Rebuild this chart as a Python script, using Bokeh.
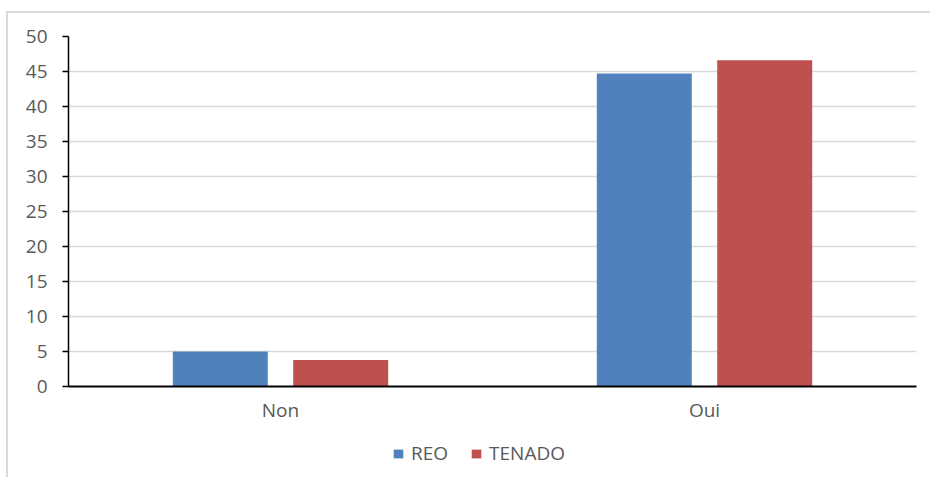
from bokeh.plotting import figure
from bokeh.layouts import column
from bokeh.models import FactorRange, Range1d, ColumnDataSource, Legend, LegendItem, SingleIntervalTicker
from bokeh.transform import dodge
from bokeh.embed import file_html
from bokeh.resources import INLINE

# Data
categories = ["Non", "Oui"]
series_names = ["REO", "TENADO"]
reo = [5.0, 44.7]
tenado = [3.8, 46.6]
colors = ["#4F81BD", "#C0504D"]

FONT = "Open Sans"
TEXT = "#595959"
GRID = "#D9D9D9"

source = ColumnDataSource(data=dict(cat=categories, REO=reo, TENADO=tenado))

bar_w = 0.224
offsets = [-0.142, 0.142]

# Main chart
chart = figure(
    x_range=FactorRange(*categories, range_padding=0),
    y_range=Range1d(0, 50),
    width=922, height=418,
    output_backend="svg", toolbar_location=None,
    min_border_left=60, min_border_right=14,
    min_border_top=23, min_border_bottom=45,
)
chart.outline_line_color = None

for name, col, off in zip(series_names, colors, offsets):
    chart.vbar(x=dodge("cat", off, range=chart.x_range), top=name, width=bar_w,
               source=source, fill_color=col, line_color=None)

chart.yaxis.ticker = SingleIntervalTicker(interval=5)
chart.yaxis.axis_line_color = "black"
chart.yaxis.axis_line_width = 1.5
chart.yaxis.major_tick_line_color = "black"
chart.yaxis.major_tick_line_width = 1.5
chart.yaxis.major_tick_out = 6
chart.yaxis.major_tick_in = 0
chart.yaxis.minor_tick_line_color = None
chart.yaxis.major_label_standoff = 15
chart.yaxis.major_label_text_font = FONT
chart.yaxis.major_label_text_font_size = "19px"
chart.yaxis.major_label_text_color = TEXT

chart.xaxis.axis_line_color = "black"
chart.xaxis.axis_line_width = 2
chart.xaxis.major_tick_line_color = None
chart.xaxis.major_label_standoff = 4
chart.xaxis.major_label_text_font = FONT
chart.xaxis.major_label_text_font_size = "19px"
chart.xaxis.major_label_text_color = TEXT

chart.xgrid.grid_line_color = None
chart.ygrid.grid_line_color = GRID
chart.ygrid.grid_line_width = 1.5

# Legend strip: same series, y window kept off the bars so only the key shows
key = figure(
    x_range=chart.x_range, y_range=Range1d(1000, 1001),
    width=922, height=46,
    output_backend="svg", toolbar_location=None,
    min_border=0,
)
key.axis.visible = False
key.grid.visible = False
key.outline_line_color = None
key_renderers = []
for name, col, off in zip(series_names, colors, offsets):
    r = key.vbar(x=dodge("cat", off, range=key.x_range), top=name, width=bar_w,
                 source=source, fill_color=col, line_color=None)
    key_renderers.append(r)

legend = Legend(
    items=[LegendItem(label=n, renderers=[r]) for n, r in zip(series_names, key_renderers)],
    orientation="horizontal", location=(324, 11),
    label_text_font=FONT, label_text_font_size="19px", label_text_color=TEXT,
    glyph_width=12, glyph_height=11, label_standoff=7, spacing=22,
    padding=0, margin=0, border_line_color=None, background_fill_alpha=0,
)
key.add_layout(legend, "center")

p = column(chart, key, spacing=0)
p.margin = (11, 0, 0, 6)
p.styles = {"border-left": "2px solid " + GRID, "border-top": "2px solid " + GRID}

open("out.html", "w").write(file_html(p, INLINE))
